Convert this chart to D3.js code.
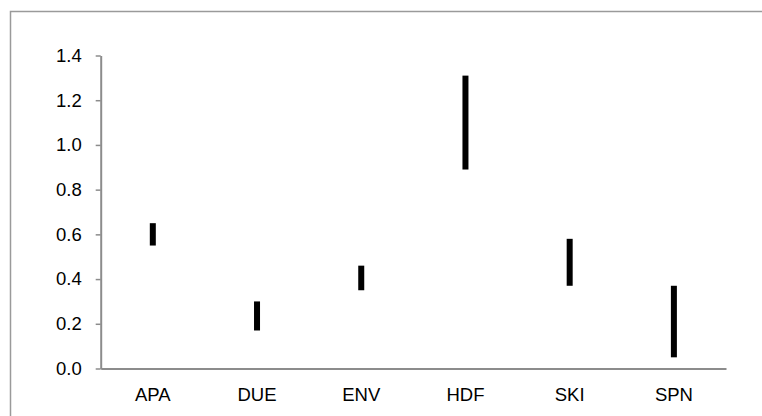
<!DOCTYPE html>
<html>
<head>
<meta charset="utf-8">
<script src="https://cdn.jsdelivr.net/npm/d3@7"></script>
<style>
  html, body { margin: 0; padding: 0; background: #fff; }
  svg { display: block; }
  text { font-family: "Liberation Sans", Arial, sans-serif; }
</style>
</head>
<body>
<svg id="chart" width="762" height="416"></svg>
<script>
// Range (low–high) for each category
const categories = ["APA", "DUE", "ENV", "HDF", "SKI", "SPN"];
const lowValues  = [0.55, 0.17, 0.35, 0.89, 0.37, 0.05];
const highValues = [0.65, 0.30, 0.46, 1.31, 0.58, 0.37];
const yTicks = [0, 0.2, 0.4, 0.6, 0.8, 1.0, 1.2, 1.4];

const svg = d3.select("#chart");
const axisColor = "#8c8c8c";
const labelSize = 18.5;

// outer chart frame
svg.append("rect")
  .attr("x", 10.5).attr("y", 11.5)
  .attr("width", 900).attr("height", 600)
  .attr("fill", "none")
  .attr("stroke", "#9a9a9a")
  .attr("stroke-width", 1.5);

const plotLeft = 100.7, plotRight = 726, plotTop = 55.5, plotBottom = 368.5;

const x = d3.scaleBand().domain(categories).range([plotLeft, plotRight]);
const y = d3.scaleLinear().domain([0, 1.4]).range([plotBottom, plotTop]);

// y axis
const yAxis = svg.append("g")
  .attr("transform", `translate(${plotLeft},0)`)
  .call(d3.axisLeft(y).tickValues(yTicks).tickFormat(d3.format(".1f")).tickSize(5).tickPadding(14).tickSizeOuter(0));
yAxis.select(".domain").attr("stroke", axisColor).attr("stroke-width", 2);
yAxis.selectAll(".tick line").attr("stroke", axisColor).attr("stroke-width", 1.5);
yAxis.selectAll(".tick text").attr("font-size", labelSize).attr("fill", "#000")
  .attr("font-family", "'Liberation Sans', Arial, sans-serif");

// x axis
const xAxis = svg.append("g")
  .attr("transform", `translate(0,${plotBottom})`)
  .call(d3.axisBottom(x).tickSize(0).tickPadding(19).tickSizeOuter(0));
xAxis.select(".domain").attr("stroke", axisColor).attr("stroke-width", 2);
xAxis.selectAll(".tick text").attr("font-size", labelSize).attr("fill", "#000")
  .attr("font-family", "'Liberation Sans', Arial, sans-serif");

// range bars
const barW = 6;
svg.append("g").selectAll("rect")
  .data(categories)
  .join("rect")
  .attr("x", (d) => x(d) + x.bandwidth() / 2 - barW / 2)
  .attr("y", (d, i) => y(highValues[i]))
  .attr("width", barW)
  .attr("height", (d, i) => y(lowValues[i]) - y(highValues[i]))
  .attr("fill", "#000");
</script>
</body>
</html>
